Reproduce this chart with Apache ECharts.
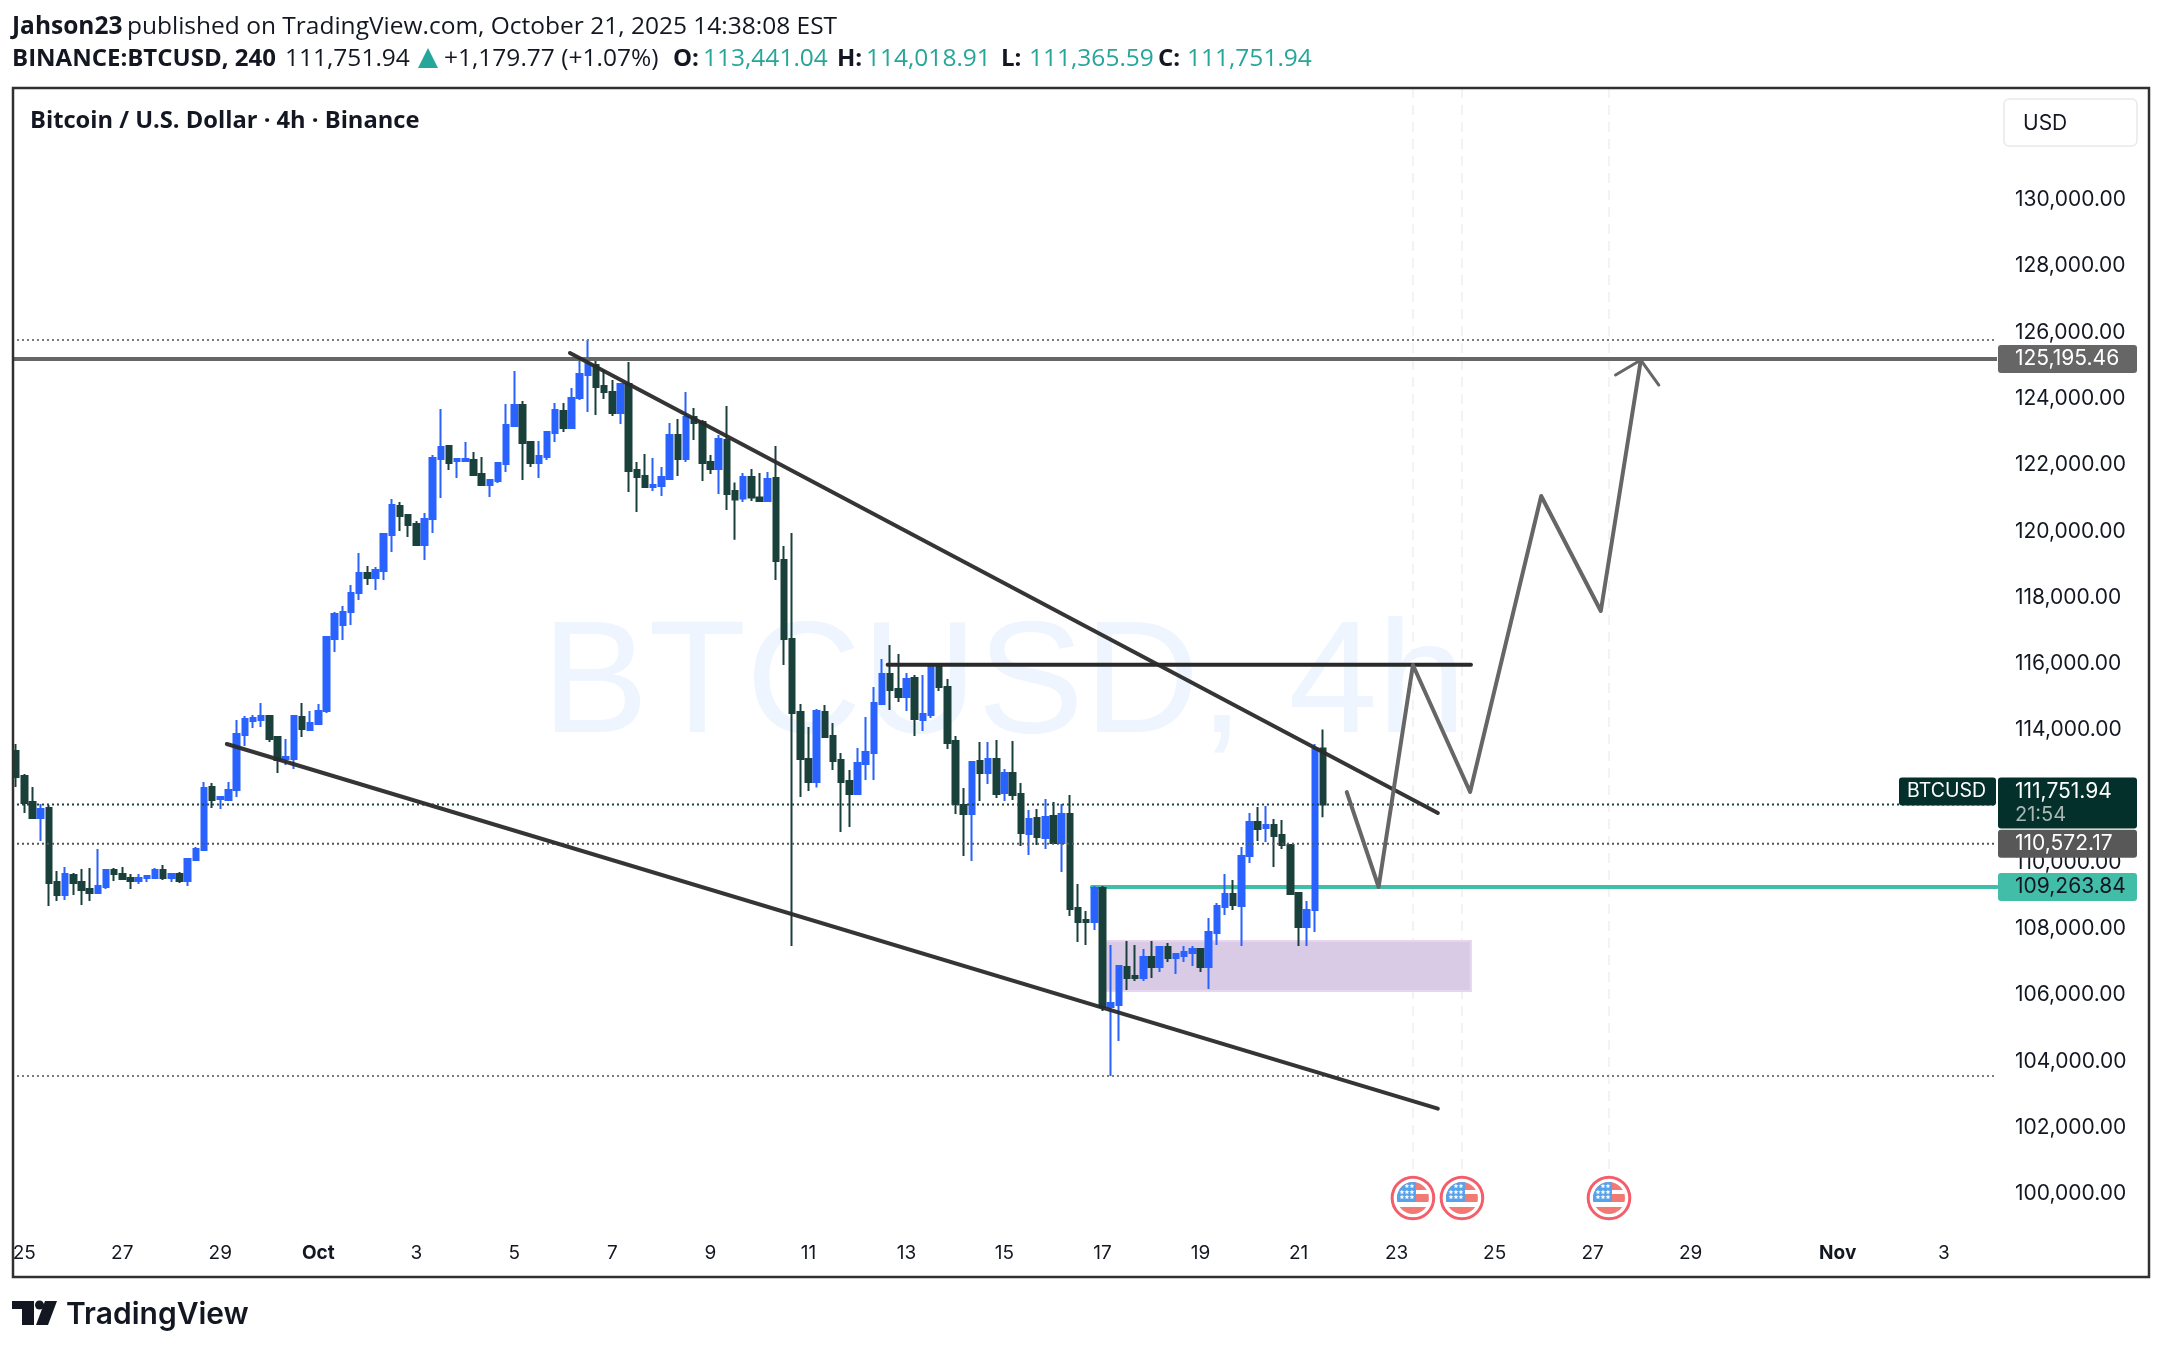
<!DOCTYPE html>
<html>
<head>
<meta charset="utf-8">
<title>BTCUSD 4h</title>
<script src="https://cdn.jsdelivr.net/npm/echarts@6/dist/echarts.min.js"></script>
<style>
html, body { margin: 0; padding: 0; background: #fff; }
#main { width: 2162px; height: 1350px; }
</style>
</head>
<body>
<div id="main"></div>
<script>
var opens = [113367,112614,111829,111346,111648,109415,109022,109626,109415,109203,109083,109264,109777,109656,109535,109445,109535,109535,109777,109535,109656,109445,110079,110380,112281,111919,111889,112191,113850,114273,114303,114424,113790,113126,113126,114394,114002,114183,114575,116747,117170,117562,118135,118739,118588,118799,119886,120760,120489,120217,119584,120368,122178,122571,122118,122118,122148,121726,121394,121515,122028,123175,123808,122692,122058,122239,122963,123627,123114,124019,124713,125015,124381,124200,123567,124442,121847,121665,121334,121364,121575,122903,122178,123446,123295,122088,121877,122752,121213,120984,121635,121017,120911,121605,119131,116747,114545,113126,112432,114545,113820,113096,112462,112070,112975,113307,114786,115691,115238,114997,115570,114303,114454,115932,115299,113669,111738,111467,113066,112703,113126,112100,112703,112070,110863,111346,110742,111406,110591,111467,108630,108268,108208,109234,105643,105703,106850,106578,106518,107151,106850,107453,107121,107181,107272,107393,106850,107876,108660,109053,108691,110199,111225,111044,111135,110833,110531,109083,108057,108570,113441];
var closes = [112583,111799,111346,111618,109384,109022,109656,109384,109173,109083,109295,109777,109656,109505,109445,109535,109596,109777,109535,109656,109445,110109,110410,112251,111889,111979,112191,113880,114333,114363,114424,113729,113096,113186,114424,114032,114213,114575,116807,117502,117562,118135,118739,118588,118829,119916,120791,120458,120187,119584,120368,122209,122541,122058,122178,122178,121696,121394,121545,122058,123205,123808,122662,122058,122269,122993,123657,123114,124019,124744,125045,124351,124200,123567,124442,121817,121635,121334,121394,121635,122903,122178,123446,123265,122058,121877,122782,121123,120954,121635,121017,120911,121575,119101,116747,114514,113126,112432,114575,113790,113066,112432,112070,113005,113337,114816,115691,115208,114997,115540,114333,114484,115932,115299,113609,111769,111467,113036,112703,113126,112070,112703,112040,110893,111316,110773,111376,110591,111467,108600,108208,108208,109234,105643,105764,106880,106518,106518,107151,106850,107453,107121,107242,107302,107393,106850,107906,108691,109053,108721,110199,111225,111014,111135,110802,110531,109053,108057,108570,113441,111752];
var highs = [113579,112674,112281,111769,111738,109747,109867,109686,109807,109837,110410,109807,109837,109867,109656,109656,109596,109837,109928,109686,109716,110109,110471,112432,112402,111979,112432,114303,114424,114454,114816,114424,113790,113729,114424,114816,114575,114786,116807,117562,117743,118376,119342,118950,118920,119946,120971,120881,120519,120308,120549,122299,123687,122601,122209,122692,122390,122239,121575,122088,123838,124834,123929,122692,122722,123023,123868,123868,124321,125226,125769,125136,124864,124562,124472,125106,122088,122329,122209,121937,123265,123386,124200,123717,123356,122299,122903,123778,121470,121756,121877,121756,121786,122571,119553,119946,114786,114092,114635,114756,114213,113307,112794,113458,114394,115299,116144,116566,116294,115721,115661,115661,116023,116023,115540,113820,112251,113066,113639,113639,113699,112824,113669,112402,111587,111618,111919,111829,111769,112040,109354,108540,109294,109294,107514,106910,107634,107514,107393,107634,107453,107574,107242,107483,107483,107393,108328,108781,109656,109475,110471,111497,111678,111708,111316,111286,110561,109083,108841,113579,114019];
var lows = [112281,111497,111346,110652,108690,108841,108872,109022,108721,108841,109083,109203,109445,109475,109203,109354,109415,109505,109475,109415,109384,109294,110079,110350,111648,111618,111889,111979,113518,114062,114092,113639,112703,112945,112824,113790,114002,114183,114515,116355,116717,117170,117924,118376,118226,118528,119373,120006,119825,119584,119131,119946,121002,121847,121605,122088,121696,121364,121032,121455,121786,123144,121545,121937,121605,122148,122692,122993,123114,123959,123597,123506,123989,123476,123235,121183,120579,121304,121213,121062,121545,121665,122088,122752,121515,121726,121123,120640,119746,120881,120911,120881,120911,118528,115963,107483,111979,112161,112266,113790,112794,110923,111074,112070,112492,112492,114786,114605,114846,114575,113820,113971,114363,115178,113428,111467,110200,110049,111859,112371,111949,111859,111889,110501,110230,110531,110410,110591,109716,108389,107604,107514,107966,105522,103561,104617,106156,106427,106427,106518,106699,107000,106638,107000,106880,106699,106186,107514,108419,108570,107483,109988,110652,110622,109867,110410,109053,107483,107483,107906,111366];

var xTickIndex = [1, 13, 25, 37, 49, 61, 73, 85, 97, 109, 121, 133, 145, 157, 169, 181, 193, 205, 223, 236];
var xTickLabels = ['25', '27', '29', 'Oct', '3', '5', '7', '9', '11', '13', '15', '17', '19', '21', '23', '25', '27', '29', 'Nov', '3'];
var yTicks = [100000, 102000, 104000, 106000, 108000, 110000, 112000, 114000, 116000, 118000, 120000, 122000, 124000, 126000, 128000, 130000];

var slotCount = 243;
var yMin = 97496;
var yMax = 133374;
var lastPrice = 111751.94;
var midPrice = 110572.17;
var resistPrice = 125195.46;
var supportPrice = 109263.84;
var topDotted = 125769;
var lowDotted = 103561;

// drawings, [bar index, price]
var upperTrend = [[67.8, 125377], [174.05, 111497]];
var lowerTrend = [[25.8, 113579], [174.05, 102576]];
var flatTop = [[106.7, 115970], [178.1, 115970]];
var forecast = [[162.9, 112130], [166.8, 109264], [171.0, 115963], [178.0, 112130], [186.7, 121062], [194.0, 117592], [198.9, 125166]];
var arrowHead = [[195.8, 124713], [198.9, 125166], [201.1, 124412]];
var zoneBox = [[133.4, 107634], [178.1, 106126]];
var eventBars = [171, 177, 195];
var eventIconPrice = 99880;
var eventLineBottom = 100544;

var flagSvg = "<svg xmlns='http://www.w3.org/2000/svg' viewBox='-23 -23 46 46'>" +
  "<defs><clipPath id='c'><circle r='16'/></clipPath>" +
  "<polygon id='s' points='0,-2.4 .7,-.8 2.4,-.7 1.1,.4 1.5,2.1 0,1.2 -1.5,2.1 -1.1,.4 -2.4,-.7 -.7,-.8'/></defs>" +
  "<circle r='20.8' fill='white' stroke='%23f23645' stroke-width='3'/>" +
  "<g clip-path='url(%23c)'>" +
  "<rect x='-16' y='-16' width='32' height='8' fill='%23f05a52'/>" +
  "<rect x='-16' y='-4' width='32' height='8' fill='%23f05a52'/>" +
  "<rect x='-16' y='9' width='32' height='8' fill='%23f05a52'/>" +
  "<rect x='-17' y='-17' width='20' height='21' fill='%232e8de6'/></g>" +
  "<g fill='white'><use href='%23s' x='-6' y='-12'/><use href='%23s' x='-1' y='-12'/>" +
  "<use href='%23s' x='-11' y='-6'/><use href='%23s' x='-6' y='-6'/><use href='%23s' x='-1' y='-6'/>" +
  "<use href='%23s' x='-11' y='-1'/><use href='%23s' x='-6' y='-1'/><use href='%23s' x='-1' y='-1'/></g></svg>";

var bars = opens.map(function (o, i) { return [o, closes[i], lows[i], highs[i]]; });
var categories = [];
for (var k = 0; k < slotCount; k++) categories.push(k);

var inter = 'Inter, sans-serif';
var head = '"Open Sans", sans-serif';

function level(price, color, width, type, z) {
  return {
    type: 'line', xAxisIndex: 1, yAxisIndex: 0, showSymbol: false, silent: true, z: z,
    lineStyle: { color: color, width: width, type: type },
    data: [[-0.5, price], [slotCount - 0.5, price]]
  };
}

function drawing(points, color, width, z, opacity) {
  return {
    type: 'line', xAxisIndex: 1, yAxisIndex: 0, showSymbol: false, silent: true, z: z,
    lineStyle: { color: color, width: width, cap: 'round', join: 'round', opacity: opacity || 1 },
    data: points
  };
}

var series = [];
eventBars.forEach(function (b) {
  series.push({
    type: 'line', xAxisIndex: 1, yAxisIndex: 0, showSymbol: false, silent: true, z: 1,
    lineStyle: { color: '#f3f3f4', width: 2, type: [10, 7] },
    data: [[b, yMax], [b, eventLineBottom]]
  });
});
series.push({
  type: 'line', xAxisIndex: 1, yAxisIndex: 0, showSymbol: false, silent: true, z: 2, data: [],
  markArea: {
    silent: true, z: 2,
    itemStyle: { color: '#d9cbe5', borderColor: '#e8d6ee', borderWidth: 2 },
    data: [[{ xAxis: zoneBox[0][0], yAxis: zoneBox[0][1] }, { xAxis: zoneBox[1][0], yAxis: zoneBox[1][1] }]]
  }
});
series.push({
  type: 'candlestick', xAxisIndex: 0, yAxisIndex: 0, z: 3, barWidth: 6, silent: true,
  itemStyle: { color: '#2962ff', color0: '#1a403b', borderColor: '#2962ff', borderColor0: '#1a403b', borderWidth: 2 },
  data: bars
});
series.push(level(topDotted, '#787b7d', 2, [2, 3], 4));
series.push(level(lastPrice, '#1a403b', 2, [2, 3], 4));
series.push(level(midPrice, '#555555', 2, [2, 3], 4));
series.push(level(lowDotted, '#787b7d', 2, [2, 3], 4));
series.push(level(resistPrice, '#666666', 4, 'solid', 4));
series.push(drawing([[131.7, supportPrice], [slotCount - 0.5, supportPrice]], '#42bda8', 4, 2));
series.push(drawing(upperTrend, '#2a2a2a', 4, 5, 0.95));
series.push(drawing(lowerTrend, '#2a2a2a', 4, 5, 0.95));
series.push(drawing(flatTop, '#2a2a2a', 4, 5));
series.push(drawing(forecast, '#666666', 4, 5));
series.push(drawing(arrowHead, '#666666', 3, 5));
series.push({
  type: 'scatter', xAxisIndex: 1, yAxisIndex: 0, silent: true, z: 6,
  symbol: 'image://data:image/svg+xml;utf8,' + flagSvg, symbolSize: 46,
  data: eventBars.map(function (b) { return [b, eventIconPrice]; })
});

var chart = echarts.init(document.getElementById('main'), null, { renderer: 'canvas' });

chart.setOption({
  animation: false,
  backgroundColor: '#ffffff',
  grid: { left: 12, top: 88, width: 1985, height: 1189, containLabel: false },
  xAxis: [{
    type: 'category', data: categories, position: 'bottom', boundaryGap: true,
    axisLine: { show: false }, axisTick: { show: false }, splitLine: { show: false },
    axisLabel: {
      inside: true, margin: 14, fontFamily: inter, fontSize: 19, color: '#131722',
      interval: function (i) { return xTickIndex.indexOf(i) >= 0; },
      formatter: function (v) {
        var label = xTickLabels[xTickIndex.indexOf(Number(v))];
        return label === 'Oct' || label === 'Nov' ? '{b|' + label + '}' : label;
      },
      rich: { b: { fontFamily: inter, fontSize: 19, fontWeight: 700, color: '#131722' } }
    }
  }, {
    type: 'value', show: false, min: -0.5, max: slotCount - 0.5, position: 'top'
  }],
  yAxis: [{
    type: 'value', position: 'right', min: yMin, max: yMax, scale: true,
    axisLine: { show: false }, axisTick: { show: false }, splitLine: { show: false },
    axisLabel: {
      customValues: yTicks, margin: 18, fontFamily: inter, fontSize: 21, color: '#131722',
      formatter: function (v) { return v.toLocaleString('en-US', { minimumFractionDigits: 2 }); }
    }
  }],
  series: series
});

// tags and page furniture, placed from the price scale
function py(price) { return chart.convertToPixel({ yAxisIndex: 0 }, price); }

function txt(x, y, text, font, size, weight, color, z, align) {
  return {
    type: 'text', x: x, y: y, z: z || 60, silent: true,
    style: { text: text, fontFamily: font, fontSize: size, fontWeight: weight || 400, fill: color, textVerticalAlign: 'middle', textAlign: align || 'left' }
  };
}

function tag(price, fill, textColor) {
  var y = py(price);
  return [
    { type: 'rect', z: 55, silent: true, shape: { x: 1998, y: y - 14, width: 139, height: 28, r: 3 }, style: { fill: fill } },
    txt(2015, y, price.toLocaleString('en-US', { minimumFractionDigits: 2 }), inter, 21, 400, textColor)
  ];
}

var lastY = py(lastPrice);
var elements = [
  { type: 'rect', z: 50, silent: true, shape: { x: 0, y: 80, width: 12, height: 1210 }, style: { fill: '#fff' } },
  { type: 'rect', z: 51, silent: true, shape: { x: 13, y: 88, width: 2136, height: 1189 }, style: { fill: 'none', stroke: '#303030', lineWidth: 2.5 } },
  { type: 'text', z: 0, silent: true, x: 1004, y: 688, style: { text: 'BTCUSD, 4h', fontFamily: '"Liberation Sans", sans-serif', fontSize: 160, fontWeight: 400, fill: '#eef5fe', textAlign: 'center', textVerticalAlign: 'middle' } },

  txt(12, 27, 'Jahson23', head, 24.5, 700, '#131722'),
  txt(127, 27, 'published on TradingView.com, October 21, 2025 14:38:08 EST', head, 24.5, 400, '#131722'),
  txt(12, 59, 'BINANCE:BTCUSD, 240', head, 24, 700, '#131722'),
  txt(285, 59, '111,751.94', head, 24.5, 400, '#131722'),
  { type: 'polygon', z: 60, silent: true, shape: { points: [[428, 48], [438, 68], [418, 68]] }, style: { fill: '#26a69a' } },
  txt(444, 59, '+1,179.77 (+1.07%)', head, 24.5, 400, '#131722'),
  txt(673, 59, 'O:', head, 24, 700, '#131722'),
  txt(703, 59, '113,441.04', head, 24.5, 400, '#26a69a'),
  txt(837, 59, 'H:', head, 24, 700, '#131722'),
  txt(866, 59, '114,018.91', head, 24.5, 400, '#26a69a'),
  txt(1001, 59, 'L:', head, 24, 700, '#131722'),
  txt(1029, 59, '111,365.59', head, 24.5, 400, '#26a69a'),
  txt(1158, 59, 'C:', head, 24, 700, '#131722'),
  txt(1187, 59, '111,751.94', head, 24.5, 400, '#26a69a'),
  txt(30, 121, 'Bitcoin / U.S. Dollar \u00b7 4h \u00b7 Binance', head, 23.7, 700, '#131722'),

  { type: 'rect', z: 55, silent: true, shape: { x: 2004, y: 99, width: 133, height: 47, r: 5 }, style: { fill: '#fff', stroke: '#e8e9ed', lineWidth: 1.5 } },
  txt(2023, 124, 'USD', inter, 21, 400, '#131722'),

  { type: 'rect', z: 55, silent: true, shape: { x: 1899, y: lastY - 27, width: 97, height: 28, r: 3 }, style: { fill: '#03302a' } },
  txt(1907, lastY - 13, 'BTCUSD', inter, 19.5, 400, '#ffffff'),
  { type: 'rect', z: 55, silent: true, shape: { x: 1998, y: lastY - 27, width: 139, height: 51, r: 3 }, style: { fill: '#03302a' } },
  txt(2015, lastY - 13, '111,751.94', inter, 21, 400, '#ffffff'),
  txt(2015, lastY + 10, '21:54', inter, 20, 400, '#a9b8b4'),

  // TradingView mark
  { type: 'polygon', z: 60, silent: true, shape: { points: [[12, 1301], [34, 1301], [34, 1325], [22, 1325], [22, 1309], [12, 1309]] }, style: { fill: '#131722' } },
  { type: 'circle', z: 60, silent: true, shape: { cx: 39.5, cy: 1305, r: 4.5 }, style: { fill: '#131722' } },
  { type: 'polygon', z: 60, silent: true, shape: { points: [[45, 1301], [57, 1301], [48, 1325], [36, 1325]] }, style: { fill: '#131722' } },
  txt(66, 1315, 'TradingView', 'Inter, sans-serif', 30, 600, '#131722')
];
elements = elements.concat(tag(midPrice, '#585858', '#ffffff'), tag(supportPrice, '#42bda8', '#131722'), tag(resistPrice, '#666666', '#ffffff'));

chart.setOption({ graphic: { elements: elements } });
</script>
</body>
</html>
